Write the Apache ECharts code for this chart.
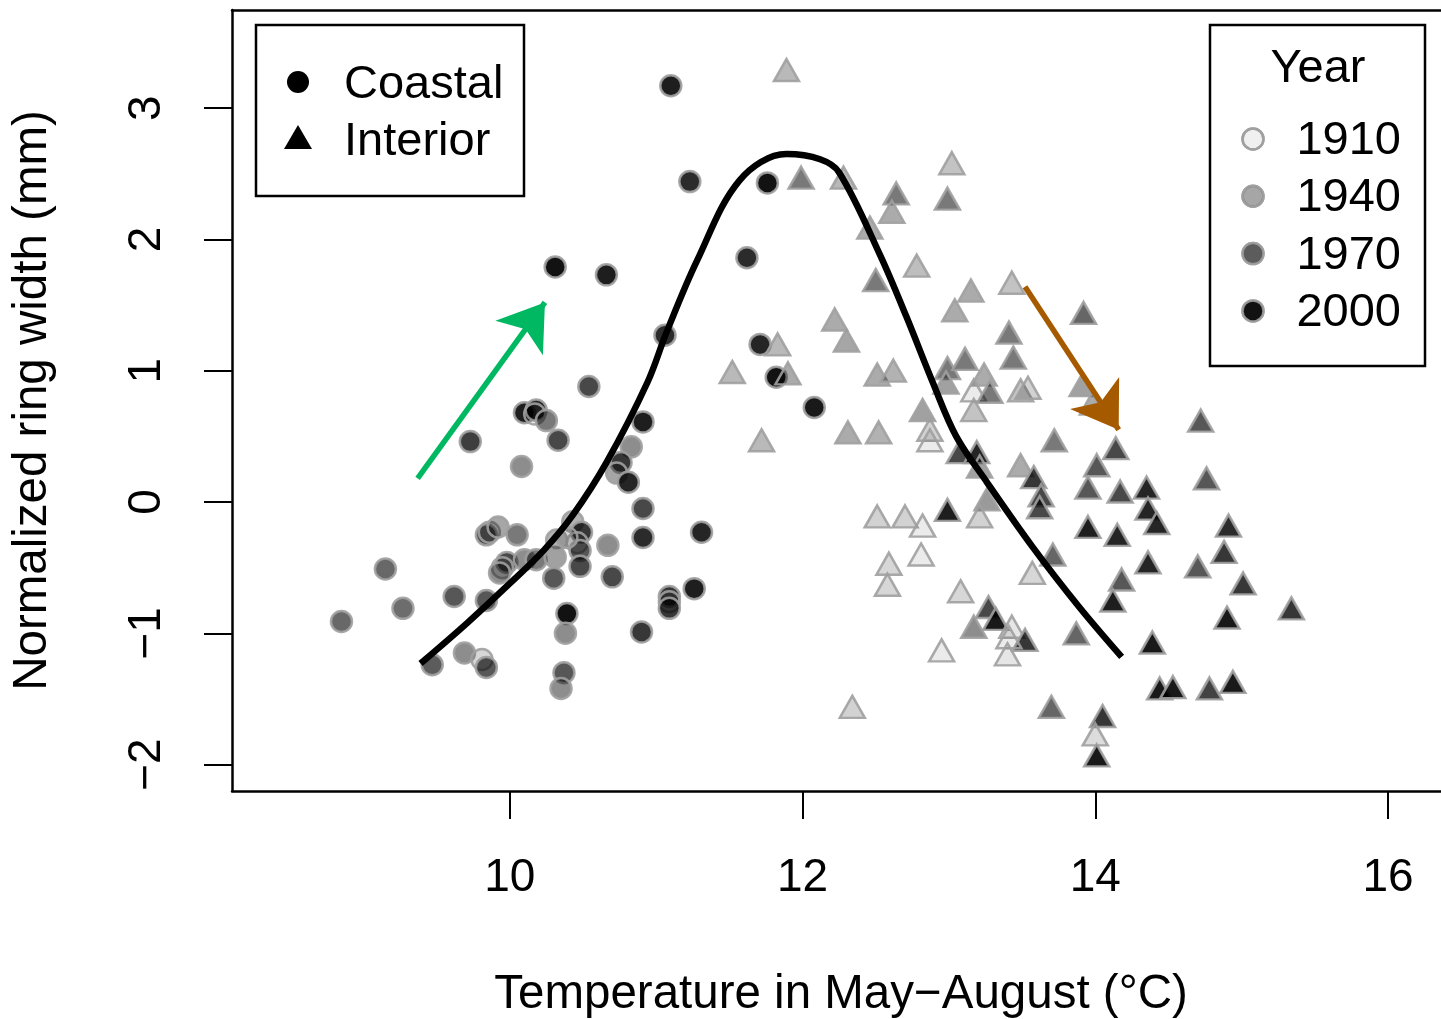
<!DOCTYPE html>
<html>
<head>
<meta charset="utf-8">
<script src="https://cdn.jsdelivr.net/npm/echarts@6/dist/echarts.min.js"></script>
<style>
html,body{margin:0;padding:0;background:#fff;}
#chart{width:1441px;height:1019px;}
</style>
</head>
<body>
<div id="chart"></div>
<script>
// ---------- data ----------
const xTicks = [10, 12, 14, 16];
const yTicks = [-2, -1, 0, 1, 2, 3];
const groupNames = ['Coastal', 'Interior'];
const legendYears = [1910, 1940, 1970, 2000];

const coastalX = [10.31,10.66,11.06,10.54,9.73,10.10,10.18,10.17,10.25,10.33,10.08,10.91,10.83,10.76,10.73,10.81,10.91,10.91,11.31,10.67,10.70,11.26,11.09,11.09,11.09,10.90,10.39,10.38,10.37,10.35,9.15,9.27,8.85,9.62,9.84,9.47,9.69,9.81,9.84,9.84,9.86,9.92,10.05,9.98,9.95,9.93,10.10,10.18,10.31,10.32,10.43,10.49,10.46,10.48,10.48,10.30,10.39,11.10,11.23,11.76,11.62,11.71,11.82,12.08];
const coastalY = [1.79,1.73,1.27,0.88,0.46,0.68,0.70,0.67,0.62,0.47,0.27,0.61,0.42,0.30,0.22,0.15,-0.05,-0.27,-0.23,-0.33,-0.57,-0.66,-0.72,-0.76,-0.81,-0.99,-0.85,-1.00,-1.30,-1.42,-0.51,-0.81,-0.91,-0.72,-0.75,-1.24,-1.15,-1.20,-1.26,-0.25,-0.23,-0.19,-0.25,-0.46,-0.50,-0.54,-0.44,-0.44,-0.42,-0.29,-0.15,-0.23,-0.31,-0.37,-0.49,-0.58,-0.27,3.17,2.44,2.43,1.86,1.20,0.95,0.72];
const coastalYear = [2000,1995,1990,1978,1982,1995,1993,1912,1958,1978,1950,1995,1950,1985,1940,1992,1978,1990,1992,1950,1978,1995,1985,1915,1985,1985,2000,1950,1972,1950,1965,1963,1965,1972,1972,1970,1950,1920,1972,1978,1915,1940,1958,1978,1918,1950,1950,1958,1942,1935,1935,1985,1920,1972,1978,1972,1918,1995,1990,2000,1990,1992,2000,1997];

const interiorX = [11.89,11.99,12.28,12.64,12.61,13.02,12.99,12.46,12.78,12.50,13.15,13.43,13.04,12.22,12.30,13.41,13.44,11.83,11.52,11.90,12.51,12.62,12.99,13.11,12.98,13.24,13.17,13.28,13.49,13.54,12.82,13.17,11.72,12.31,12.52,12.87,12.87,13.92,13.91,13.98,13.72,14.14,14.01,13.49,13.58,13.07,13.19,13.21,13.95,14.17,14.35,13.63,13.62,13.26,12.99,13.21,12.51,12.70,12.82,14.36,14.42,13.95,14.15,12.81,12.59,12.58,13.57,13.71,14.36,14.18,14.12,13.08,13.27,13.32,13.17,13.43,13.52,13.41,13.40,12.95,13.87,14.39,12.34,13.70,14.05,14.00,14.01,14.44,14.53,14.72,14.76,14.91,14.88,14.70,15.01,15.34,14.90,14.94,14.78];
const interiorY = [3.29,2.47,2.47,2.35,2.21,2.58,2.31,2.09,1.80,1.69,1.61,1.67,1.46,1.39,1.23,1.29,1.10,1.20,0.99,0.98,0.97,1.00,1.02,1.09,0.91,0.97,0.85,0.84,0.85,0.87,0.70,0.70,0.47,0.53,0.53,0.55,0.47,1.44,0.89,0.75,0.47,0.41,0.28,0.28,0.19,0.38,0.38,0.27,0.11,0.08,0.11,0.05,-0.04,0.02,-0.06,-0.11,-0.11,-0.11,-0.18,-0.05,-0.16,-0.19,-0.25,-0.40,-0.47,-0.63,-0.54,-0.40,-0.46,-0.59,-0.75,-0.68,-0.80,-0.89,-0.95,-0.95,-1.05,-1.03,-1.16,-1.13,-1.00,-1.07,-1.56,-1.56,-1.63,-1.77,-1.93,-1.42,-1.41,0.62,0.18,-0.18,-0.38,-0.49,-0.62,-0.81,-0.88,-1.37,-1.42];
const interiorYear = [1932,1958,1932,1958,1938,1928,1958,1938,1930,1958,1938,1928,1938,1938,1940,1958,1958,1932,1932,1938,1938,1935,1958,1958,1942,1938,1912,1958,1928,1922,1942,1928,1932,1938,1935,1922,1912,1966,1942,1938,1958,1978,1972,1938,1985,1978,1992,1942,1972,1978,1992,1978,1978,1945,1995,1922,1922,1922,1912,1992,1992,1995,1992,1912,1920,1920,1920,1966,1992,1972,1995,1920,1978,1997,1950,1914,1985,1912,1914,1912,1966,1997,1922,1966,1985,1918,1997,1997,1997,1972,1972,1990,1985,1972,1985,1985,1997,1997,1980];

const curveX = [9.39,9.71,10.00,10.23,10.43,10.66,10.94,11.07,11.28,11.57,11.89,12.12,12.25,12.53,12.71,12.89,13.05,13.26,13.57,13.89,14.18];
const curveY = [-1.23,-0.92,-0.62,-0.37,-0.10,0.30,0.91,1.29,1.84,2.45,2.65,2.61,2.51,1.88,1.41,0.91,0.50,0.15,-0.34,-0.80,-1.18];

const arrowStarts = [[9.37, 0.18], [13.52, 1.64]];
const arrowEnds = [[10.24, 1.52], [14.16, 0.55]];
const arrowColors = ['#00b862', '#a65a00'];

// ---------- helpers ----------
function yearAlpha(y) {
  const a = 0.06 + (y - 1910) / 90 * 0.87;
  return Math.max(0.03, Math.min(0.96, a));
}
function fillFor(y) { return 'rgba(0,0,0,' + yearAlpha(y).toFixed(3) + ')'; }
function pts(xs, ys, yrs) {
  return xs.map((x, i) => ({ value: [x, ys[i]], itemStyle: { color: fillFor(yrs[i]) } }));
}
const FONT = '"Liberation Sans", Arial, Helvetica, sans-serif';
const minus = v => (v < 0 ? '\u2212' + Math.abs(v) : String(v));
const XMIN = 8.102, XMAX = 16.362, YMIN = -2.201, YMAX = 3.747;

const chart = echarts.init(document.getElementById('chart'), null, { renderer: 'canvas' });

// legend graphics
const graphics = [];
graphics.push({ type: 'rect', shape: { x: 256, y: 25, width: 268, height: 171 }, style: { fill: '#fff', stroke: '#000', lineWidth: 2.5 }, z: 100 });
graphics.push({ type: 'circle', shape: { cx: 298, cy: 82, r: 11 }, style: { fill: '#000' }, z: 101 });
graphics.push({ type: 'polygon', shape: { points: [[298, 125], [312, 149], [284, 149]] }, style: { fill: '#000' }, z: 101 });
groupNames.forEach((n, i) => {
  graphics.push({ type: 'text', x: 344, y: 85 + i * 57, style: { text: n, font: '47px ' + FONT, fill: '#000', verticalAlign: 'middle' }, z: 101 });
});
graphics.push({ type: 'rect', shape: { x: 1210, y: 25, width: 215, height: 341 }, style: { fill: '#fff', stroke: '#000', lineWidth: 2.5 }, z: 100 });
graphics.push({ type: 'text', x: 1318, y: 69, style: { text: 'Year', font: '47px ' + FONT, fill: '#000', align: 'center', verticalAlign: 'middle' }, z: 101 });
legendYears.forEach((yr, i) => {
  const cy = 139 + i * 57.3;
  graphics.push({ type: 'circle', shape: { cx: 1253, cy: cy, r: 10.5 }, style: { fill: '#fff', stroke: 'rgba(160,160,160,0.9)', lineWidth: 2.5 }, z: 101 });
  graphics.push({ type: 'circle', shape: { cx: 1253, cy: cy, r: 10.5 }, style: { fill: fillFor(yr), stroke: 'rgba(160,160,160,0.9)', lineWidth: 2.5 }, z: 102 });
  graphics.push({ type: 'text', x: 1401, y: cy + 2, style: { text: String(yr), font: '47px ' + FONT, fill: '#000', align: 'right', verticalAlign: 'middle' }, z: 102 });
});

const option = {
  backgroundColor: '#fff',
  animation: false,
  textStyle: { fontFamily: FONT },
  grid: { left: 232, top: 10, right: 0, bottom: 228, show: false, containLabel: false, outerBoundsMode: 'none' },
  xAxis: [{
    type: 'value', min: XMIN, max: XMAX, position: 'bottom',
    splitLine: { show: false },
    axisLine: { show: true, onZero: false, lineStyle: { color: '#000', width: 2.5 } },
    axisTick: { show: true, length: 28, inside: false, customValues: xTicks, lineStyle: { color: '#000', width: 2 } },
    axisLabel: { customValues: xTicks, margin: 64, fontSize: 46, color: '#000', fontFamily: FONT, formatter: v => minus(v) },
    name: 'Temperature in May\u2212August (\u00B0C)', nameLocation: 'middle', nameGap: 180,
    nameTextStyle: { fontSize: 47.5, color: '#000', fontFamily: FONT, padding: [0, 0, 0, 9] }
  }, {
    type: 'value', min: XMIN, max: XMAX, position: 'top',
    splitLine: { show: false },
    axisLine: { show: true, onZero: false, lineStyle: { color: '#000', width: 2.5 } },
    axisTick: { show: false }, axisLabel: { show: false }
  }],
  yAxis: {
    type: 'value', min: YMIN, max: YMAX,
    splitLine: { show: false },
    axisLine: { show: true, onZero: false, lineStyle: { color: '#000', width: 2.5 } },
    axisTick: { show: true, length: 28, inside: false, customValues: yTicks, lineStyle: { color: '#000', width: 2 } },
    axisLabel: { customValues: yTicks, margin: 62, rotate: 90, fontSize: 46, color: '#000', fontFamily: FONT, formatter: v => minus(v) },
    name: 'Normalized ring width (mm)', nameLocation: 'middle', nameGap: 175,
    nameTextStyle: { fontSize: 47.5, color: '#000', fontFamily: FONT }
  },
  series: [
    {
      name: 'Coastal', type: 'scatter', symbol: 'circle', symbolSize: 21,
      itemStyle: { borderColor: 'rgba(160,160,160,0.9)', borderWidth: 2.5, opacity: 1 },
      data: pts(coastalX, coastalY, coastalYear), z: 2
    },
    {
      name: 'Interior', type: 'scatter', symbol: 'triangle', symbolSize: [25, 22],
      itemStyle: { borderColor: 'rgba(160,160,160,0.9)', borderWidth: 2.5, opacity: 1 },
      data: pts(interiorX, interiorY, interiorYear), z: 3
    },
    {
      name: 'fit', type: 'line', smooth: 0.35, showSymbol: false, symbol: 'none',
      lineStyle: { color: '#000', width: 6.5 },
      data: curveX.map((x, i) => [x, curveY[i]]), z: 4
    },
    {
      name: 'arrows', type: 'lines', coordinateSystem: 'cartesian2d', polyline: false,
      symbol: ['none', 'arrow'], symbolSize: [40, 44],
      lineStyle: { width: 5.5, opacity: 1 },
      data: arrowStarts.map((s, i) => ({ coords: [s, arrowEnds[i]], lineStyle: { color: arrowColors[i] } })),
      z: 5
    }
  ],
  graphic: graphics
};
chart.setOption(option);
</script>
</body>
</html>
